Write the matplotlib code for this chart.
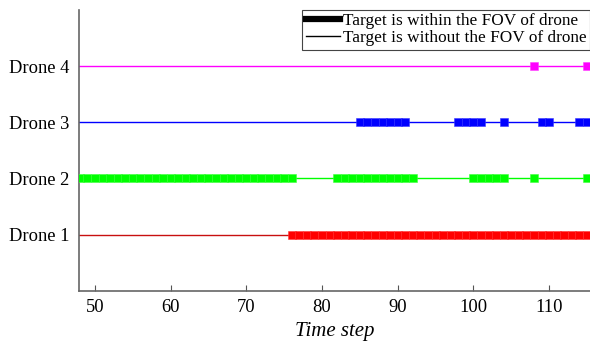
import matplotlib.pyplot as plt
from matplotlib.lines import Line2D

plt.rcParams['font.family'] = ['Liberation Serif', 'DejaVu Serif']

t_start = 48
t_end = 116
drones = ['Drone 1', 'Drone 2', 'Drone 3', 'Drone 4']
colors = ['#ff0000', '#00ff00', '#0000ff', '#ff00ff']
edge_colors = ['#ff3a3a', '#40ff40', '#3a3aff', '#ff40ff']
thin_colors = ['#c81010', '#00ff00', '#0000ff', '#ff00ff']

# time steps where the target is inside the FOV of each drone
in_fov = [
    list(range(76, 116)),
    list(range(48, 77)) + list(range(82, 93)) + list(range(100, 105)) + [108, 115],
    list(range(85, 92)) + list(range(98, 102)) + [104, 109, 110, 114, 115],
    [108, 115],
]

fig = plt.figure(figsize=(5.9, 3.41), dpi=100)
ax = fig.add_axes([0.134, 0.147, 0.866, 0.824])

for i, name in enumerate(drones):
    y = i + 1
    ax.plot([t_start - 1, t_end], [y, y], color=thin_colors[i], lw=1.0, zorder=2)
    ts = in_fov[i]
    # split into runs of consecutive steps
    runs = []
    for t in ts:
        if runs and t == runs[-1][-1] + 1:
            runs[-1].append(t)
        else:
            runs.append([t])
    for r in runs:
        ax.plot(r, [y] * len(r), color=colors[i], lw=5.0, marker='s', ms=5.6,
                mec=edge_colors[i], mew=0.4, solid_capstyle='butt', zorder=3)

ax.set_xlim(47.9, 115.4)
ax.set_ylim(0, 5)
ax.set_yticks([1, 2, 3, 4])
ax.set_yticklabels(drones, fontsize=13.3)
ax.set_xticks(range(50, 111, 10))
ax.tick_params(axis='x', direction='in', length=4, labelsize=13.3, pad=6, color='#555555')
ax.tick_params(axis='y', length=0, pad=7)
ax.set_xlabel('Time step', fontsize=15, fontstyle='italic', labelpad=4)
for s in ['top', 'right']:
    ax.spines[s].set_visible(False)
for s in ['left', 'bottom']:
    ax.spines[s].set_color('#666666')
    ax.spines[s].set_linewidth(1.2)

handles = [Line2D([], [], color='black', lw=4.5),
           Line2D([], [], color='black', lw=1)]
leg = ax.legend(handles, ['Target is within the FOV of drone',
                          'Target is without the FOV of drone'],
                loc='upper right', borderaxespad=0, fontsize=12.4, fancybox=False,
                framealpha=1, edgecolor='#444444', handlelength=2.0,
                handletextpad=0.15, labelspacing=0.05, borderpad=0.2)
leg.get_frame().set_linewidth(0.8)

fig.savefig('out.png', dpi=100)
